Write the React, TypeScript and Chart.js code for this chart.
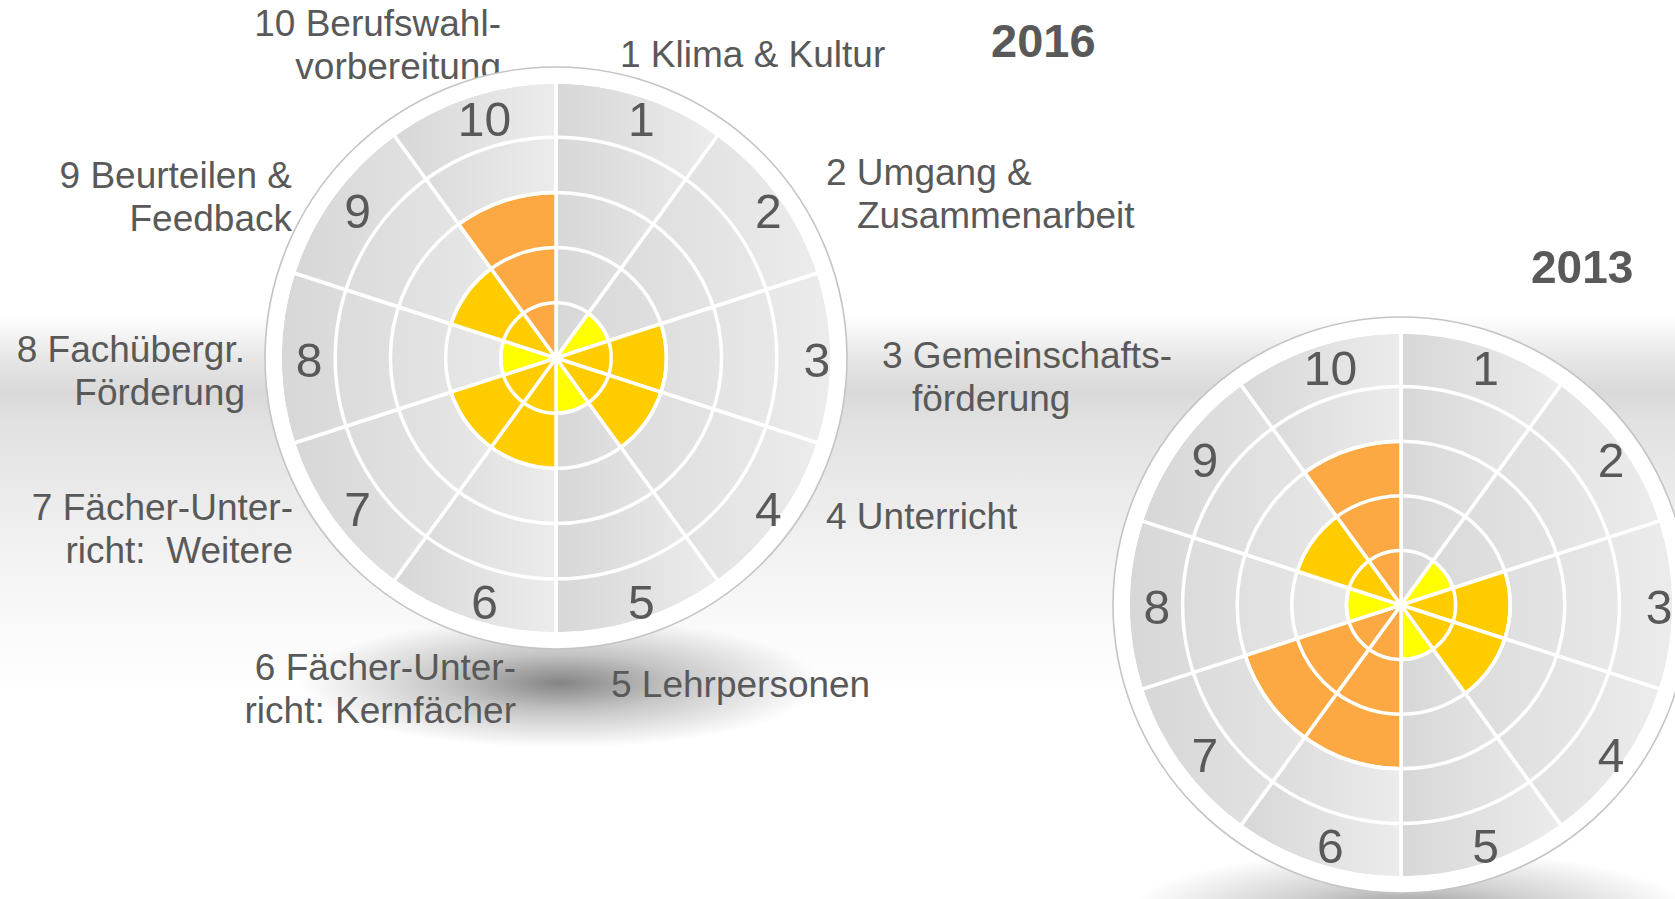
import React, { useEffect, useRef } from 'react';
import { Chart, registerables } from 'chart.js';

Chart.register(...registerables);

// ---- data ----
const categories = ['1', '2', '3', '4', '5', '6', '7', '8', '9', '10'];
const values2016 = [0, 1, 2, 2, 1, 2, 2, 1, 2, 3];
const values2013 = [0, 1, 2, 2, 1, 3, 3, 1, 2, 3];
const backgroundValues = [5, 5, 5, 5, 5, 5, 5, 5, 5, 5];
const scaleMax = 5;
const yearTitles = ['2016', '2013'];
const topicLabels: string[][] = [
  ['1 Klima & Kultur'],
  ['2 Umgang &', 'Zusammenarbeit'],
  ['3 Gemeinschafts-', 'förderung'],
  ['4 Unterricht'],
  ['5 Lehrpersonen'],
  ['6 Fächer-Unter-', 'richt: Kernfächer'],
  ['7 Fächer-Unter-', 'richt:  Weitere'],
  ['8 Fachübergr.', 'Förderung'],
  ['9 Beurteilen &', 'Feedback'],
  ['10 Berufswahl-', 'vorbereitung'],
];

// ---- styles / layout ----
const FONT = '"Liberation Sans", Arial, Helvetica, sans-serif';
const TEXT = '#595959';
const valueColors = ['rgba(0,0,0,0)', '#FFFF00', '#FFCC00', '#FDA943'];

type LabelPos = { x: number; top: number; align: 'left' | 'right'; indent?: number };
const labelPositions: LabelPos[] = [
  { x: 620, top: 34, align: 'left' },
  { x: 826, top: 152, align: 'left', indent: 31 },
  { x: 882, top: 335, align: 'left', indent: 30 },
  { x: 826, top: 496, align: 'left' },
  { x: 611, top: 664, align: 'left' },
  { x: 516, top: 647, align: 'right' },
  { x: 293, top: 487, align: 'right' },
  { x: 245, top: 329, align: 'right' },
  { x: 292, top: 155, align: 'right' },
  { x: 501, top: 3, align: 'right' },
];

const segmentGradient = (ctx: any) => {
  const chart = ctx.chart;
  const s: any = chart.scales && chart.scales.r;
  if (!s || !chart.chartArea || s.drawingArea == null) return '#e0e0e0';
  const n = categories.length;
  const i = ctx.dataIndex ?? 0;
  const a0 = -Math.PI / 2 + (i * 2 * Math.PI) / n;
  const a1 = a0 + (2 * Math.PI) / n;
  const R = s.drawingArea;
  const cx = s.xCenter;
  const xs = [cx, cx + R * Math.cos(a0), cx + R * Math.cos(a1)];
  for (let k = -2; k <= 4; k++) {
    const a = k * Math.PI;
    if (a > a0 && a < a1) xs.push(cx + R * Math.cos(a));
  }
  const x0 = Math.min(...xs);
  const x1 = Math.max(...xs);
  if (!(x1 > x0)) return '#e0e0e0';
  const g = chart.ctx.createLinearGradient(x0, 0, x1, 0);
  g.addColorStop(0, '#d7d7d7');
  g.addColorStop(1, '#ececec');
  return g;
};

function PolarChart({ values, cx, cy, radius }: { values: number[]; cx: number; cy: number; radius: number }) {
  const ref = useRef<HTMLCanvasElement>(null);
  const size = 640;
  useEffect(() => {
    if (!ref.current) return;
    const pad = size / 2 - radius;
    const decor = {
      id: 'decor',
      beforeDraw(chart: any) {
        const s = chart.scales.r;
        const c = chart.ctx;
        c.save();
        c.beginPath();
        c.arc(s.xCenter, s.yCenter, s.drawingArea + 15, 0, Math.PI * 2);
        c.fillStyle = '#ffffff';
        c.fill();
        c.lineWidth = 1.6;
        c.strokeStyle = '#c4c4c4';
        c.stroke();
        c.restore();
      },
      afterDraw(chart: any) {
        const s = chart.scales.r;
        const c = chart.ctx;
        c.save();
        c.font = `48px ${FONT}`;
        c.fillStyle = TEXT;
        c.textAlign = 'center';
        c.textBaseline = 'middle';
        categories.forEach((lab, i) => {
          const p = s.getPointPositionForValue(i + 0.5, 4.6);
          c.fillText(lab, p.x + 7, p.y + 6);
        });
        c.restore();
      },
    };
    const chart = new Chart(ref.current, {
      type: 'polarArea',
      data: {
        labels: categories,
        datasets: [
          {
            data: values,
            backgroundColor: (ctx: any) => valueColors[Math.round(ctx.raw ?? 0)] || valueColors[0],
            borderColor: '#ffffff',
            borderWidth: 3.5,
          },
          {
            data: backgroundValues,
            backgroundColor: segmentGradient,
            borderColor: '#ffffff',
            borderWidth: 3.5,
          },
        ],
      },
      options: {
        responsive: false,
        animation: false,
        layout: { padding: pad },
        plugins: { legend: { display: false }, tooltip: { enabled: false } },
        events: [],
        scales: {
          r: {
            min: 0,
            max: scaleMax,
            ticks: { display: false, stepSize: 1 },
            grid: { color: '#ffffff', lineWidth: 3.5, circular: true, z: 1 },
            angleLines: { display: false },
            pointLabels: { display: false },
          },
        },
      } as any,
      plugins: [decor],
    });
    return () => chart.destroy();
  }, []);
  return (
    <canvas
      ref={ref}
      width={size}
      height={size}
      style={{ position: 'absolute', left: cx - size / 2, top: cy - size / 2, width: size, height: size }}
    />
  );
}

export default function App() {
  return (
    <div
      style={{
        position: 'fixed',
        left: 0,
        top: 0,
        width: 1675,
        height: 899,
        overflow: 'hidden',
        fontFamily: FONT,
        background:
          'linear-gradient(to bottom, #ffffff 0px, #ffffff 315px, #e6e6e6 360px, #d9d9d9 392px, #e1e1e1 420px, #e9e9e9 480px, #f3f3f3 560px, #fbfbfb 640px, #ffffff 700px, #ffffff 899px)',
      }}
    >
      {/* shadows */}
      <div
        style={{
          position: 'absolute',
          left: 300,
          top: 618,
          width: 520,
          height: 130,
          background: 'radial-gradient(ellipse 50% 50% at 50% 50%, rgba(0,0,0,0.48) 0%, rgba(0,0,0,0.22) 45%, rgba(0,0,0,0) 100%)',
        }}
      />
      <div
        style={{
          position: 'absolute',
          left: 1130,
          top: 850,
          width: 560,
          height: 120,
          background: 'radial-gradient(ellipse 50% 50% at 50% 50%, rgba(0,0,0,0.4) 0%, rgba(0,0,0,0.18) 45%, rgba(0,0,0,0) 100%)',
        }}
      />
      {/* topic labels */}
      {topicLabels.map((lines, i) => {
        const p = labelPositions[i];
        const st: any = {
          position: 'absolute',
          top: p.top,
          fontSize: 37,
          lineHeight: '42.7px',
          color: TEXT,
          whiteSpace: 'pre',
          textAlign: p.align,
        };
        if (p.align === 'left') st.left = p.x;
        else st.right = 1675 - p.x;
        return (
          <div key={i} style={st}>
            {lines.map((l, j) => (
              <div key={j} style={{ paddingLeft: j > 0 && p.indent ? p.indent : 0 }}>
                {l}
              </div>
            ))}
          </div>
        );
      })}
      <PolarChart values={values2016} cx={556} cy={358} radius={276} />
      <PolarChart values={values2013} cx={1401} cy={605} radius={273} />
      <div style={{ position: 'absolute', left: 991, top: 14, fontSize: 47, fontWeight: 'bold', color: TEXT, lineHeight: '54px' }}>
        {yearTitles[0]}
      </div>
      <div style={{ position: 'absolute', left: 1531, top: 240, fontSize: 46, fontWeight: 'bold', color: TEXT, lineHeight: '54px' }}>
        {yearTitles[1]}
      </div>
    </div>
  );
}
